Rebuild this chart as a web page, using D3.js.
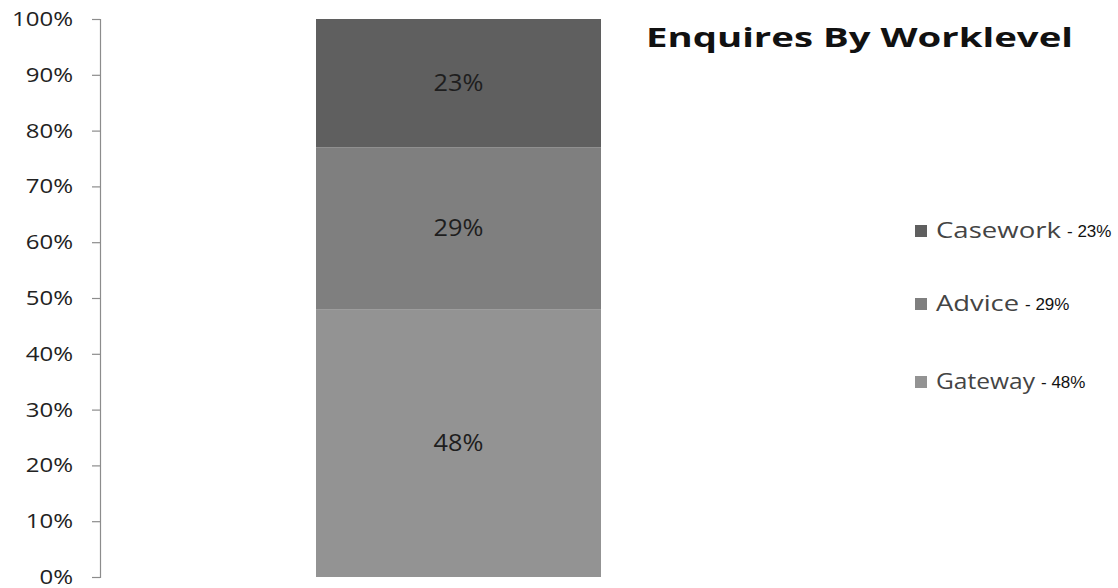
<!DOCTYPE html>
<html>
<head>
<meta charset="utf-8">
<script src="https://cdn.jsdelivr.net/npm/d3@7"></script>
<style>
  html, body { margin: 0; padding: 0; background: #ffffff; }
  svg { display: block; }
</style>
</head>
<body>
<svg id="chart" width="1118" height="588"></svg>
<script>
// Share of enquiries at each work level (stacked, bottom to top)
const levels = ["Gateway", "Advice", "Casework"];
const shares = [48, 29, 23];
const levelColors = ["#939393", "#7f7f7f", "#5f5f5f"];
const tickValues = [0, 10, 20, 30, 40, 50, 60, 70, 80, 90, 100];
const titleText = "Enquires By Worklevel";

const svg = d3.select("#chart");
const bodyFont = "'Open Sans', 'Noto Sans', sans-serif";

// Widen a text element horizontally by a factor, keeping its anchor
function widen(sel, factor) {
  sel.each(function () {
    const w = this.getComputedTextLength();
    d3.select(this)
      .attr("textLength", w * factor)
      .attr("lengthAdjust", "spacingAndGlyphs");
  });
}

const y = d3.scaleLinear().domain([0, 100]).range([577, 19]);
const x = d3.scaleBand().domain(["all"]).range([316, 601]).padding(0);

// Y axis
const yAxis = d3.axisLeft(y)
  .tickValues(tickValues)
  .tickFormat(d => d + "%")
  .tickSize(8)
  .tickPadding(19);

const gAxis = svg.append("g")
  .attr("transform", "translate(100,0)")
  .call(yAxis);
gAxis.select(".domain").attr("stroke", "#8c8c8c").attr("stroke-width", 1.2);
gAxis.selectAll(".tick line").attr("stroke", "#8c8c8c").attr("stroke-width", 1.2);
gAxis.selectAll(".tick text")
  .attr("fill", "#222")
  .style("font-family", bodyFont)
  .style("font-size", "20px")
  .call(widen, 1.2);

// Stacked segments
const stackData = [];
let acc = 0;
levels.forEach((name, i) => {
  stackData.push({ name, value: shares[i], y0: acc, y1: acc + shares[i], color: levelColors[i] });
  acc += shares[i];
});

const bar = svg.append("g");
bar.selectAll("rect")
  .data(stackData)
  .join("rect")
  .attr("x", x("all"))
  .attr("width", x.bandwidth())
  .attr("y", d => y(d.y1))
  .attr("height", d => y(d.y0) - y(d.y1))
  .attr("fill", d => d.color);

bar.selectAll("text")
  .data(stackData)
  .join("text")
  .attr("x", x("all") + x.bandwidth() / 2)
  .attr("y", d => (y(d.y0) + y(d.y1)) / 2)
  .attr("dy", "0.35em")
  .attr("text-anchor", "middle")
  .attr("fill", "#1e1e1e")
  .style("font-family", bodyFont)
  .style("font-size", "23px")
  .text(d => d.value + "%")
  .call(widen, 1.1);

// Title
svg.append("text")
  .attr("x", 646)
  .attr("y", 47)
  .attr("textLength", 427)
  .attr("lengthAdjust", "spacingAndGlyphs")
  .attr("fill", "#111")
  .style("font-family", bodyFont)
  .style("font-weight", "bold")
  .style("font-size", "27px")
  .text(titleText);

// Legend (top to bottom: Casework, Advice, Gateway)
const legendY = { Casework: 231, Advice: 304, Gateway: 382 };
const legendWidth = { Casework: 125, Advice: 83, Gateway: 99 };
const legendItems = stackData.slice().reverse();
const legend = svg.append("g");
const item = legend.selectAll("g")
  .data(legendItems)
  .join("g")
  .attr("transform", d => `translate(915,${legendY[d.name]})`);

item.append("rect")
  .attr("x", 0)
  .attr("y", -6)
  .attr("width", 12)
  .attr("height", 12)
  .attr("fill", d => d.color);

item.append("text")
  .attr("x", 21)
  .attr("dy", "0.35em")
  .attr("textLength", d => legendWidth[d.name])
  .attr("lengthAdjust", "spacingAndGlyphs")
  .attr("fill", "#444")
  .style("font-family", bodyFont)
  .style("font-size", "21px")
  .text(d => d.name);

item.append("text")
  .attr("x", d => 21 + legendWidth[d.name] + 6)
  .attr("dy", "0.35em")
  .attr("fill", "#111")
  .style("font-family", "'Liberation Sans', Arial, sans-serif")
  .style("font-size", "17px")
  .text(d => "- " + d.value + "%");
</script>
</body>
</html>
